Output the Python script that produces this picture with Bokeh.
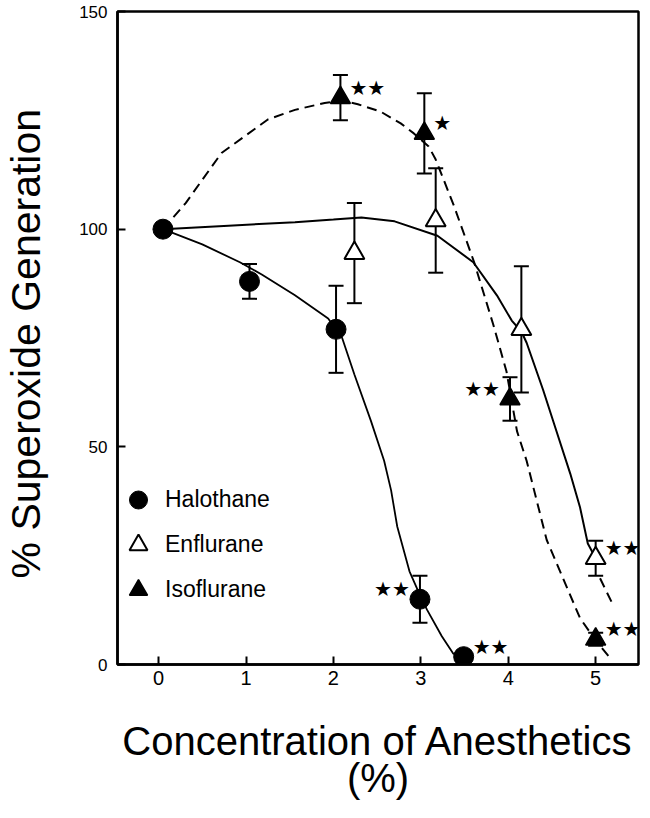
from bokeh.plotting import figure
from bokeh.models import (Whisker, ColumnDataSource, Legend, LegendItem, TeeHead,
                          FixedTicker, Range1d, LinearAxis)
from bokeh.embed import file_html
from bokeh.resources import INLINE
from bokeh.core.properties import value

# ---------------- data ----------------
hal_x = [0.05, 1.04, 2.03, 2.99, 3.49]
hal_y = [100, 88, 77, 15, 1.8]
hal_err = [0, 4, 10, 5.4, 0]
hal_sig = ["", "", "", "★★", "★★"]
hal_side = ["", "", "", "left", "right"]

enf_x = [2.24, 3.17, 4.15, 5.0]
enf_y = [94.5, 102, 77, 24.4]
enf_err = [11.5, 12, 14.5, 4]
enf_sig = ["", "", "", "★★"]
enf_side = ["", "", "", "right"]

iso_x = [2.08, 3.04, 4.02, 5.0]
iso_y = [130.2, 122, 61, 5.8]
iso_err = [5.2, 9.2, 5, 1.5]
iso_sig = ["★★", "★", "★★", "★★"]
iso_side = ["right", "right", "left", "right"]

# fitted curves
hal_curve_x = [0.05, 0.5, 0.93, 1.18, 1.56, 1.94, 2.1, 2.24, 2.43, 2.58, 2.66, 2.73, 2.87, 3.0, 3.07, 3.24, 3.37, 3.48]
hal_curve_y = [100, 96.5, 92.4, 89.6, 84.8, 79.5, 75, 66.6, 55.9, 46.8, 40, 31.7, 21.4, 15.5, 12.6, 6.5, 2.5, 1.8]

enf_curve_x = [0.05, 0.8, 1.56, 2.0, 2.32, 2.7, 3.19, 3.6, 3.87, 4.04, 4.15, 4.21, 4.4, 4.55, 4.71, 4.82, 4.91, 5.0]
enf_curve_y = [100, 100.8, 101.6, 102.2, 102.7, 101.8, 98.5, 92.4, 84.8, 79, 76.5, 73.9, 63, 53.7, 43.8, 36.2, 27.8, 24.4]
enf_tail_x = [5.05, 5.21]
enf_tail_y = [19.8, 13.2]

iso_curve_x = [0.05, 0.31, 0.72, 1.25, 1.56, 1.9, 2.1, 2.28, 2.54, 2.77, 2.92, 3.09, 3.17, 3.38, 3.61, 3.83, 3.98, 4.1, 4.21, 4.44, 4.82, 5.0, 5.16]
iso_curve_y = [100, 106, 117.5, 125.2, 127.4, 129, 129.5, 128.7, 127, 124.3, 122, 119, 116, 105.3, 92.4, 78, 67.3, 53.6, 46.8, 28.6, 10.7, 5.5, 1.6]

x_ticks = [0, 1, 2, 3, 4, 5]
y_ticks = [0, 50, 100, 150]

x_title = "Concentration of Anesthetics"
x_unit = "(%)"
y_title = "% Superoxide  Generation"

FONT = "Liberation Sans"
STAR_FONT = "DejaVu Sans"

p = figure(width=642, height=802, output_backend="svg", toolbar_location=None,
           x_range=Range1d(-0.47, 5.49), y_range=Range1d(0, 150),
           min_border_left=114, min_border_right=4, min_border_top=11,
           min_border_bottom=138)
p.grid.visible = False
p.background_fill_color = "white"
p.border_fill_color = "white"
p.outline_line_color = "black"
p.outline_line_width = 2.5
p.outline_line_alpha = 1.0

for ax in (p.xaxis[0], p.yaxis[0]):
    ax.axis_line_width = 2.5
    ax.axis_line_color = "black"
    ax.major_tick_line_width = 2
    ax.major_tick_in = 8
    ax.major_tick_out = 0
    ax.minor_tick_line_color = None
    ax.major_label_text_font = FONT
    ax.major_label_text_color = "black"
    ax.axis_label_text_font = FONT
    ax.axis_label_text_font_style = "normal"
    ax.axis_label_text_color = "black"

p.xaxis.ticker = FixedTicker(ticks=x_ticks)
p.yaxis.ticker = FixedTicker(ticks=y_ticks)
p.xaxis.major_label_text_font_size = "20px"
p.yaxis.major_label_text_font_size = "17px"
p.xaxis.major_label_standoff = 6
p.yaxis.major_label_standoff = 10
p.xaxis.axis_label = x_title
p.yaxis.axis_label = y_title
p.xaxis.axis_label_text_font_size = "40px"
p.yaxis.axis_label_text_font_size = "41px"
p.xaxis.axis_label_standoff = 31
p.yaxis.axis_label_standoff = 27

# second line of the x-axis title, as a bare axis stacked below
unit_axis = LinearAxis(axis_label=x_unit, ticker=FixedTicker(ticks=[]),
                       axis_line_color=None, major_tick_line_color=None,
                       minor_tick_line_color=None, major_tick_in=0, major_tick_out=0,
                       major_label_standoff=0, major_label_text_font_size="0px",
                       axis_label_standoff=-10, axis_label_text_font=FONT,
                       axis_label_text_font_size="40px",
                       axis_label_text_font_style="normal",
                       axis_label_text_color="black")
p.add_layout(unit_axis, "below")


def add_err(xs, ys, es):
    pts = [(x, y, e) for x, y, e in zip(xs, ys, es) if e > 0]
    src = ColumnDataSource(dict(base=[q[0] for q in pts],
                                upper=[q[1] + q[2] for q in pts],
                                lower=[q[1] - q[2] for q in pts]))
    w = Whisker(source=src, base="base", upper="upper", lower="lower",
                dimension="height", line_width=2, line_color="black",
                upper_head=TeeHead(size=15, line_width=2, line_color="black"),
                lower_head=TeeHead(size=15, line_width=2, line_color="black"),
                level="underlay")
    p.add_layout(w)


add_err(hal_x, hal_y, hal_err)
add_err(enf_x, enf_y, enf_err)
add_err(iso_x, iso_y, iso_err)

# curves
p.line(hal_curve_x, hal_curve_y, line_color="black", line_width=1.8)
p.line(enf_curve_x, enf_curve_y, line_color="black", line_width=2)
p.line(enf_tail_x, enf_tail_y, line_color="black", line_width=2, line_dash="10 6")
p.line(iso_curve_x, iso_curve_y, line_color="black", line_width=2, line_dash="10 6")

# markers
r_hal = p.scatter(hal_x, hal_y, marker="circle", size=20, fill_color="black",
                  line_color="black", line_width=1)
r_enf = p.scatter(enf_x, enf_y, marker="triangle", size=20, fill_color="white",
                  line_color="black", line_width=2)
r_iso = p.scatter(iso_x, iso_y, marker="triangle", size=20, fill_color="black",
                  line_color="black", line_width=1.5)


def add_stars(xs, ys, sig, side):
    for s, align, dx in (("right", "left", 9), ("left", "right", -10)):
        sx = [x for x, t, sd in zip(xs, sig, side) if t and sd == s]
        sy = [y for y, t, sd in zip(ys, sig, side) if t and sd == s]
        st = [t for t, sd in zip(sig, side) if t and sd == s]
        if sx:
            p.text(sx, sy, text=st, x_offset=dx, y_offset=-10,
                   text_align=align, text_baseline="middle",
                   text_font=value(STAR_FONT), text_font_size="20px",
                   text_color="black")


add_stars(hal_x, hal_y, hal_sig, hal_side)
add_stars(enf_x, enf_y, enf_sig, enf_side)
add_stars(iso_x, iso_y, iso_sig, iso_side)

legend = Legend(items=[LegendItem(label="Halothane", renderers=[r_hal]),
                       LegendItem(label="Enflurane", renderers=[r_enf]),
                       LegendItem(label="Isoflurane", renderers=[r_iso])],
                location=(-4, 52), orientation="vertical",
                border_line_color=None, background_fill_alpha=0,
                padding=0, margin=0, spacing=0,
                glyph_width=50, glyph_height=45, label_height=45,
                label_standoff=2, label_text_font=FONT, label_text_color="black",
                label_text_font_size="23px", label_text_baseline="middle")
p.add_layout(legend)

open("out.html", "w").write(file_html(p, INLINE))
